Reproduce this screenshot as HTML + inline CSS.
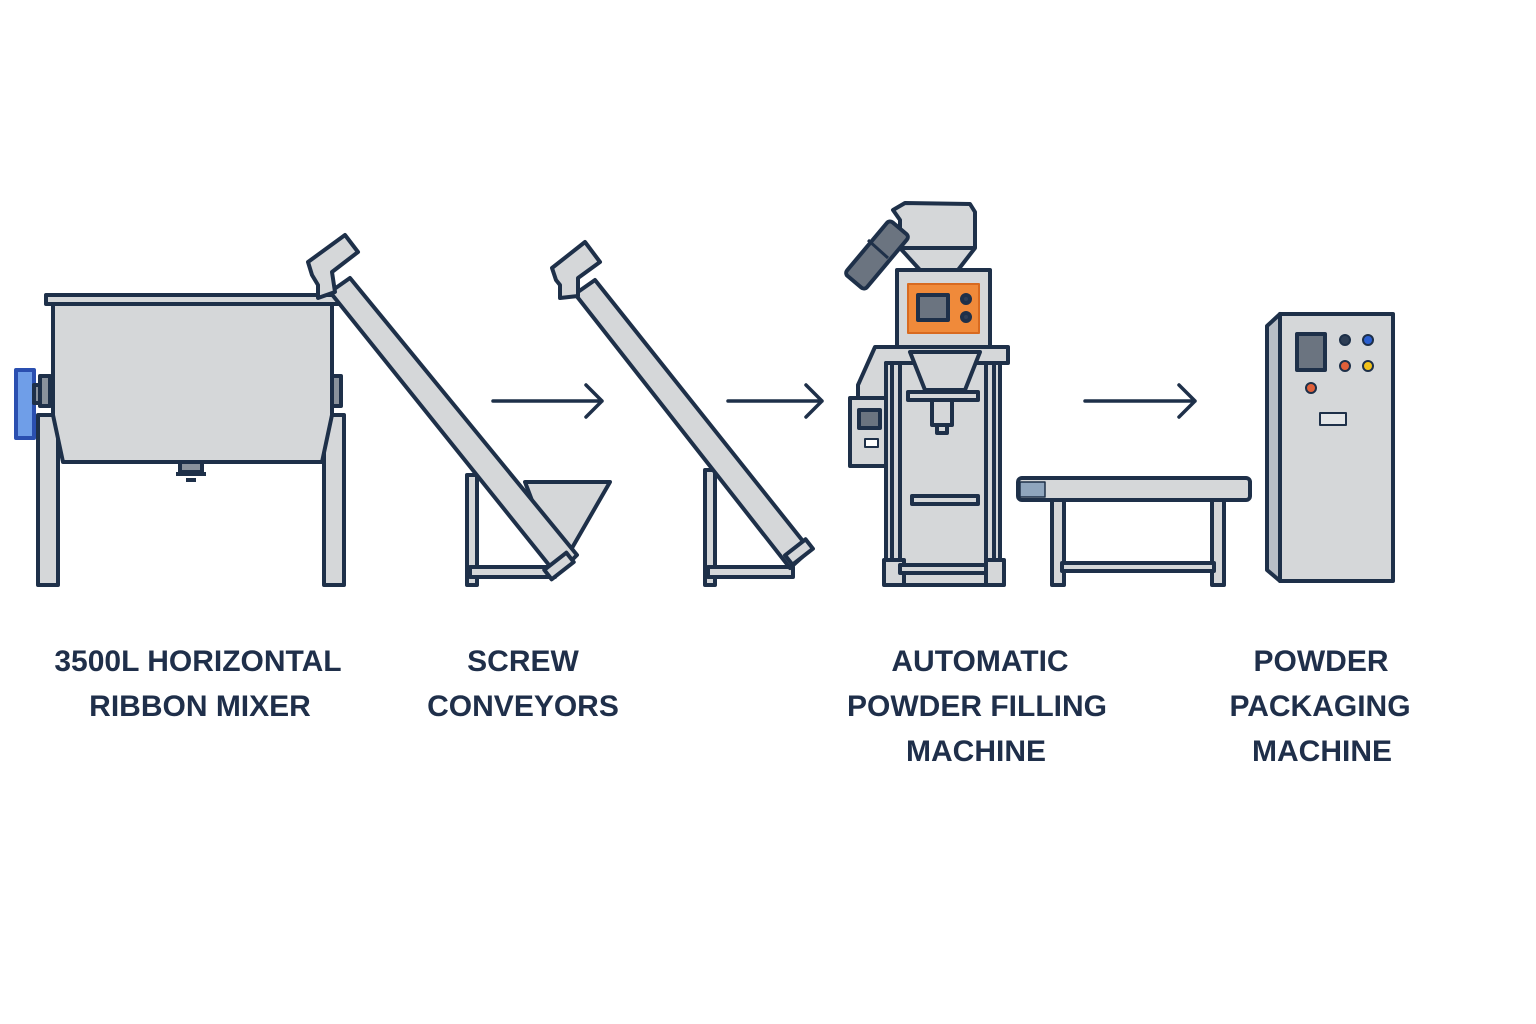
<!DOCTYPE html>
<html><head><meta charset="utf-8"><style>
html,body{margin:0;padding:0;background:#fff;}
svg{display:block}
text{font-family:"Liberation Sans",sans-serif;font-weight:bold;fill:#1f2f4a;font-size:30px;text-anchor:middle}
</style></head><body>
<svg width="1536" height="1024" viewBox="0 0 1536 1024">
<g stroke="#1e3049" stroke-width="4" stroke-linejoin="round" fill="#d5d7d9">
<!-- Mixer -->
<rect x="38" y="415" width="20" height="170"/>
<rect x="324" y="415" width="20" height="170"/>
<polygon points="53,304 332,304 332,415 322,462 63,462 53,415"/>
<rect x="46" y="295" width="292" height="9"/>
<rect x="16" y="370" width="18" height="68" fill="#6f9ee8" stroke="#2a4fb0"/>
<rect x="34" y="385" width="8" height="18" fill="#8a929c"/>
<rect x="40" y="376" width="10" height="30" fill="#8a929c"/>
<rect x="332" y="376" width="9" height="30" fill="#8a929c"/>
<rect x="180" y="462" width="22" height="10" fill="#8a929c"/>
<path d="M176 474 h30 M186 480 h10" fill="none"/>
<!-- Conveyor 1 -->
<rect x="467" y="475" width="10" height="110"/>
<rect x="470" y="567" width="85" height="10"/>
<polygon points="525,482 610,482 572,548 550,548"/>
<polygon points="330,292 350,278 577,555 557,575"/>
<polygon points="308,262 345,235 358,252 332,272 335,292 318,298 318,285 312,275"/>
<rect x="545" y="560" width="28" height="12" transform="rotate(-38 559 566)"/>
<!-- Conveyor 2 -->
<rect x="705" y="470" width="10" height="115"/>
<rect x="708" y="567" width="85" height="10"/>
<polygon points="575,294 595,280 810,550 790,568"/>
<polygon points="552,268 585,242 600,262 578,278 578,296 560,298 560,285 556,280"/>
<rect x="786" y="546" width="26" height="12" transform="rotate(-38 799 552)"/>
<!-- Filling machine -->
<polygon points="893,210 905,203 970,204 975,212 975,248 958,270 920,270 900,248 900,220"/>
<line x1="900" y1="248" x2="975" y2="248"/>
<rect x="864" y="220" width="26" height="70" rx="4" fill="#6b7480" transform="rotate(40 877 255)"/>
<line x1="868" y1="240" x2="888" y2="258" stroke-width="3"/>
<rect x="897" y="270" width="93" height="77"/>
<rect x="908" y="284" width="71" height="49" fill="#f08a3a" stroke="#d86a20" stroke-width="2"/>
<rect x="918" y="295" width="30" height="25" fill="#6b7480"/>
<circle cx="966" cy="299" r="4" fill="#2e3e55"/>
<circle cx="966" cy="317" r="4" fill="#2e3e55"/>
<polygon points="875,347 1008,347 1008,363 886,363 886,398 858,398 858,385"/>
<rect x="886" y="363" width="114" height="222"/>
<rect x="892" y="363" width="8" height="210"/>
<rect x="986" y="363" width="8" height="210"/>
<polygon points="910,352 980,352 965,390 925,390"/>
<rect x="908" y="392" width="70" height="8"/>
<rect x="932" y="400" width="20" height="25"/>
<rect x="937" y="425" width="10" height="8"/>
<rect x="912" y="496" width="66" height="8"/>
<rect x="884" y="560" width="20" height="25"/>
<rect x="986" y="560" width="18" height="25"/>
<rect x="900" y="565" width="86" height="8"/>
<rect x="850" y="398" width="36" height="68"/>
<rect x="859" y="410" width="21" height="18" fill="#6b7480"/>
<rect x="865" y="439" width="13" height="8" fill="#fff" stroke-width="2"/>
<!-- Belt conveyor -->
<rect x="1052" y="500" width="12" height="85"/>
<rect x="1212" y="500" width="12" height="85"/>
<rect x="1062" y="563" width="152" height="8"/>
<rect x="1018" y="478" width="232" height="22" rx="4"/>
<rect x="1020" y="482" width="25" height="15" fill="#8fa5bd" stroke-width="1.5"/>
<!-- Packaging cabinet -->
<polygon points="1267,326 1280,314 1280,581 1267,570" fill="#b8bec6"/>
<rect x="1280" y="314" width="113" height="267"/>
<rect x="1297" y="334" width="28" height="36" fill="#6b7480"/>
<circle cx="1345" cy="340" r="5" fill="#2e3e55" stroke-width="2"/>
<circle cx="1368" cy="340" r="5" fill="#2a5fd0" stroke-width="2"/>
<circle cx="1345" cy="366" r="5" fill="#e0603a" stroke-width="2"/>
<circle cx="1368" cy="366" r="5" fill="#f2c21a" stroke-width="2"/>
<circle cx="1311" cy="388" r="5" fill="#e0603a" stroke-width="2"/>
<rect x="1320" y="413" width="26" height="12" fill="#e4e6e8" stroke-width="2"/>
</g>
<!-- Arrows -->
<g stroke="#1e3049" stroke-width="3.5" fill="none" stroke-linecap="round" stroke-linejoin="round">
<path d="M493 401 H602 M586 385 L602 401 L586 417"/>
<path d="M728 401 H822 M806 385 L822 401 L806 417"/>
<path d="M1085 401 H1195 M1179 385 L1195 401 L1179 417"/>
</g>
<text x="198" y="671">3500L HORIZONTAL</text>
<text x="200" y="716">RIBBON MIXER</text>
<text x="523" y="671">SCREW</text>
<text x="523" y="716">CONVEYORS</text>
<text x="980" y="671">AUTOMATIC</text>
<text x="977" y="716">POWDER FILLING</text>
<text x="976" y="761">MACHINE</text>
<text x="1321" y="671">POWDER</text>
<text x="1320" y="716">PACKAGING</text>
<text x="1322" y="761">MACHINE</text>
</svg>
</body></html>
